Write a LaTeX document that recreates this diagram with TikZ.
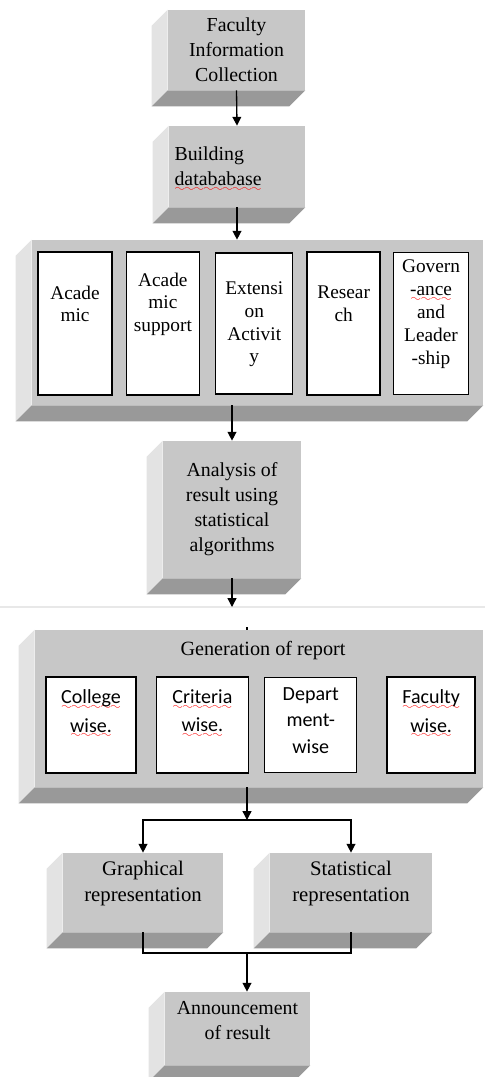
\documentclass[tikz,border=0pt]{standalone}
\usepackage{fontspec}
\setmainfont{Liberation Serif}
\newfontfamily\calfont{Carlito}
\usetikzlibrary{positioning,arrows.meta}

% red wavy underline
\font\sixly=lasy6
\newcommand{\spell}[1]{\leavevmode\setbox0\hbox{#1}\rlap{\smash{\lower3.2pt\hbox to\wd0{\color{red}\xleaders\hbox{\sixly\char58}\hfil}}}\box0}

\definecolor{front}{gray}{0.78}
\definecolor{lside}{gray}{0.89}
\definecolor{bside}{gray}{0.60}

% left and bottom faces of a box
\newcommand{\cubeside}[1]{%
	\fill[lside] (#1.north west) -- ++(-16,16) -- ([shift={(-16,16)}]#1.south west) -- (#1.south west) -- cycle;
	\fill[bside] (#1.south west) -- (#1.south east) -- ++(-16,16) -- ([shift={(-16,16)}]#1.south west) -- cycle;
}

\begin{document}
\begin{tikzpicture}[x=0.02cm, y=-0.02cm,
		cube/.style={rectangle, fill=front, inner sep=0pt, align=center, font=\fontsize{11.3}{14.2}\selectfont},
		inbox/.style={rectangle, draw=black, line width=0.8pt, fill=white, inner sep=0pt},
		intext/.style={align=center, inner sep=0pt, font=\fontsize{11}{13}\selectfont},
		calitext/.style={align=center, inner sep=0pt, font=\calfont\fontsize{11.4}{16.2}\selectfont},
		arr/.style={-{Triangle[length=5pt,width=5pt]}, line width=0.75pt},
		link/.style={-, line width=0.75pt},
		]
		\useasboundingbox (0,0) rectangle (485,1077);

		%Main Boxes
		\node[cube, minimum width=2.74cm, minimum height=1.6cm]	(fic)	at (236.5,50)	{Faculty\\Information\\Collection};
		\node[cube, minimum width=2.72cm, minimum height=1.62cm, text width=2.5cm, align=left]	(bdb)	at (237,166.5)	{Building\\\spell{datababase}};
		\node[cube, minimum width=9.02cm, minimum height=3.3cm]	(crit)	at (257.5,322.5)	{};
		\node[cube, minimum width=2.76cm, minimum height=2.74cm]	(ana)	at (232,509.5)	{Analysis of\\result using\\statistical\\algorithms};
		\node[cube, minimum width=8.96cm, minimum height=3.14cm]	(gen)	at (259,708.5)	{};
		\node[cube, minimum width=3.2cm, minimum height=1.58cm, font=\fontsize{11.8}{15}\selectfont]	(graph)	at (143,892.5)	{Graphical\\representation\\[-2pt]};
		\node[cube, minimum width=3.24cm, minimum height=1.58cm, font=\fontsize{11.8}{15}\selectfont]	(stat)	at (351,892.5)	{Statistical\\representation\\[-2pt]};
		\node[cube, minimum width=2.9cm, minimum height=1.46cm]	(ann)	at (237.5,1028.5)	{Announcement\\of result\\[-4.6pt]};

		\foreach \b in {fic,bdb,crit,ana,gen,graph,stat,ann}
			\cubeside{\b};

		%Criteria
		\node[inbox, minimum width=1.48cm, minimum height=2.86cm]	(acad)	at (75,323.5)	{};
		\node[inbox, minimum width=1.46cm, minimum height=2.86cm]	(acsup)	[right=0.26cm of acad]	{};
		\node[inbox, minimum width=1.54cm, minimum height=2.82cm]	(ext)	[right=0.3cm of acsup]	{};
		\node[inbox, minimum width=1.46cm, minimum height=2.86cm]	(res)	[right=0.26cm of ext]	{};
		\node[inbox, minimum width=1.5cm, minimum height=2.84cm]	(gov)	[right=0.24cm of res]	{};
		\node[intext]	(acad-t)	[below=0.68cm of acad.north]	{Acade\\mic};
		\node[intext]	(acsup-t)	[below=0.42cm of acsup.north]	{Acade\\mic\\support};
		\node[intext]	(ext-t)	[below=0.58cm of ext.north]	{Extensi\\on\\Activit\\y};
		\node[intext]	(res-t)	[below=0.68cm of res.north]	{Resear\\ch};
		\node[intext]	(gov-t)	[below=0.16cm of gov.north]	{Govern\\\spell{-ance}\\and\\Leader\\-ship};

		%Report
		\node[inner sep=0pt, font=\fontsize{11.5}{13}\selectfont]	(gen-t)	at (263,651)	{Generation of report};
		\node[inbox, minimum width=1.8cm, minimum height=1.92cm]	(col)	at (91,725)	{};
		\node[inbox, minimum width=1.84cm, minimum height=1.92cm]	(cri)	[right=0.38cm of col]	{};
		\node[inbox, minimum width=1.84cm, minimum height=1.9cm]	(dep)	[right=0.3cm of cri]	{};
		\node[inbox, minimum width=1.76cm, minimum height=1.92cm]	(fac)	[right=0.58cm of dep]	{};
		\node[calitext]	(col-t)	[below=0.26cm of col.north]	{\spell{College}\\\spell{wise.}};
		\node[calitext]	(cri-t)	[below=0.26cm of cri.north]	{\spell{Criteria}\\\spell{wise.}};
		\node[calitext, font=\calfont\fontsize{11.4}{15.2}\selectfont]	(dep-t)	[below=0.2cm of dep.north]	{Depart\\ment-\\wise};
		\node[calitext]	(fac-t)	[below=0.26cm of fac.north]	{\spell{Faculty}\\\spell{wise.}};

		%Page break
		\coordinate (pgl) at (0,607);
		\coordinate (pgr) at (485,607);
		\draw[gray!18, line width=1.2pt] (pgl) -- (pgr);

		%Connectors
		\coordinate (brk) at (ana.south |- pgl);
		\coordinate (gsplit) at (247,820);
		\coordinate (merge) at (247,953);
		\draw[arr]	(fic.south)	--	(bdb.north);
		\draw[arr]	(bdb.south)	--	(bdb.south |- crit.north);
		\draw[arr]	(crit.south -| ana.north)	--	(ana.north);
		\draw[arr]	(ana.south)	--	(brk);
		\draw[link]	(gsplit |- gen.north)	--	++(0,-3);
		\draw[arr]	(gsplit |- gen.south)	--	(gsplit);
		\draw[arr]	(gsplit)	-|	(graph.north);
		\draw[arr]	(gsplit)	-|	(stat.north);
		\draw[link]	(graph.south)	|-	(merge)	-|	(stat.south);
		\draw[arr]	(merge)	--	(merge |- ann.north);

\end{tikzpicture}
\end{document}
